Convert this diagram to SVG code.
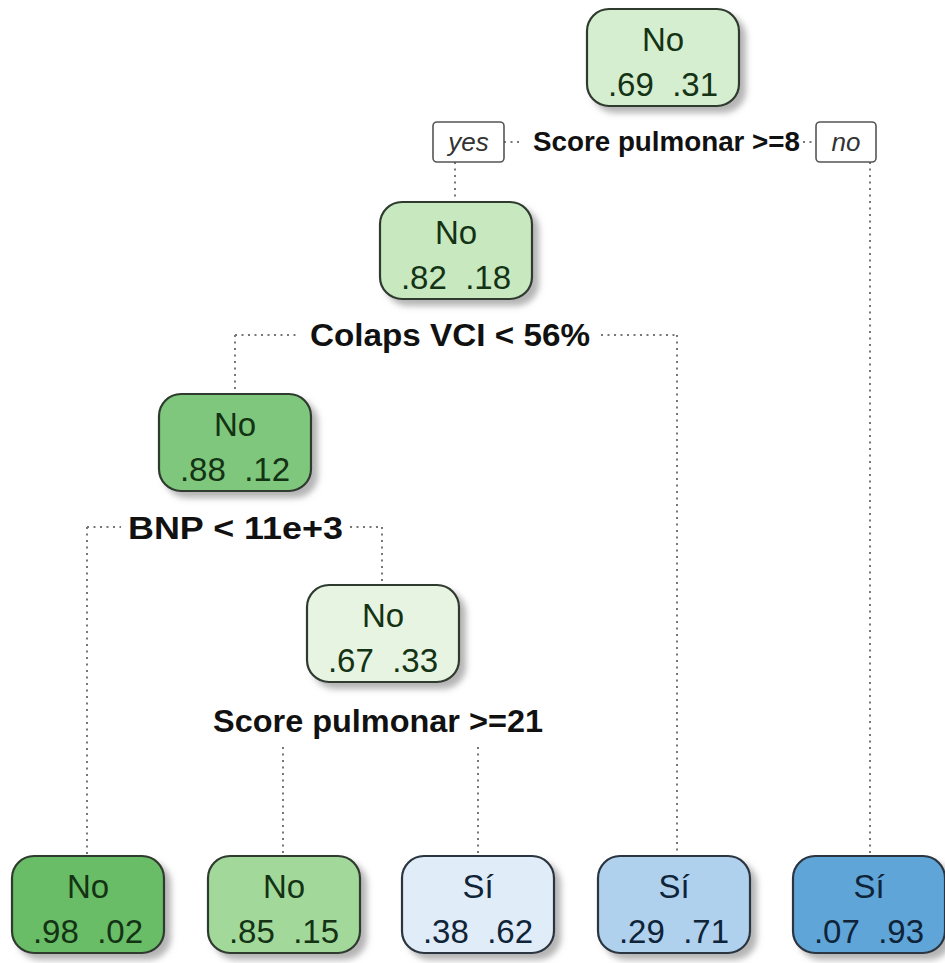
<svg xmlns="http://www.w3.org/2000/svg" width="945" height="963" viewBox="0 0 945 963">
<style>
.box{stroke:#2f3a2f;stroke-width:2.2;filter:url(#sh)}
.bbox{stroke:#2a3440;stroke-width:2.2;filter:url(#sh)}
.t{font-family:"Liberation Sans",Arial,sans-serif;font-size:33px;text-anchor:middle}
.g{fill:#143214}
.b{fill:#0f2438}
.lab{font-family:"Liberation Sans",Arial,sans-serif;font-weight:bold;fill:#111}
.yn{font-family:"Liberation Sans",Arial,sans-serif;font-style:italic;font-size:26px;fill:#333;text-anchor:middle}
.ynbox{fill:#fff;stroke:#555;stroke-width:1.6}
.dot{fill:none;stroke:#777;stroke-width:2;stroke-dasharray:2 4.5}
</style>
<defs>
<filter id="sh" x="-10%" y="-10%" width="130%" height="130%">
<feDropShadow dx="6" dy="6" stdDeviation="3" flood-color="#777" flood-opacity="0.55"/>
</filter>
</defs>
<rect width="945" height="963" fill="#fff"/>
<g id="connectors">
<path class="dot" d="M504 142 H522 M803 142 H816"/>
<path class="dot" d="M455 162 V202"/>
<path class="dot" d="M870 162 V856"/>
<path class="dot" d="M235 335 H296 M601 335 H677 M235 335 V394 M677 335 V856"/>
<path class="dot" d="M87 527 H121 M350 527 H382 M87 527 V856 M382 527 V585"/>
<path class="dot" d="M283 747 V856 M478 747 V856"/>
</g>
<g id="split-labels">
<rect class="ynbox" x="433" y="122" width="71" height="40" rx="4"/>
<text class="yn" x="468.5" y="151">yes</text>
<rect class="ynbox" x="816" y="122" width="60" height="40" rx="4"/>
<text class="yn" x="846" y="151">no</text>
<text class="lab" x="533" y="151" font-size="28" textLength="267" lengthAdjust="spacingAndGlyphs">Score pulmonar &gt;=8</text>
<text class="lab" x="310" y="346" font-size="31" textLength="280" lengthAdjust="spacingAndGlyphs">Colaps VCI &lt; 56%</text>
<text class="lab" x="128" y="539" font-size="31" textLength="215" lengthAdjust="spacingAndGlyphs">BNP &lt; 11e+3</text>
<text class="lab" x="213" y="732" font-size="31" textLength="330" lengthAdjust="spacingAndGlyphs">Score pulmonar &gt;=21</text>
</g>
<g id="root">
<rect class="box" x="587" y="9" width="152" height="97" rx="22" fill="#d5eed0"/>
<text class="t g" x="663" y="51">No</text>
<text class="t g" x="663" y="96" xml:space="preserve">.69  .31</text>
</g>
<g id="n2">
<rect class="box" x="380" y="202" width="152" height="97" rx="22" fill="#c8e8c0"/>
<text class="t g" x="456" y="244">No</text>
<text class="t g" x="456" y="289" xml:space="preserve">.82  .18</text>
</g>
<g id="n3">
<rect class="box" x="159" y="394" width="152" height="97" rx="22" fill="#7ec77b"/>
<text class="t g" x="235" y="436">No</text>
<text class="t g" x="235" y="481" xml:space="preserve">.88  .12</text>
</g>
<g id="n4">
<rect class="box" x="307" y="585" width="152" height="97" rx="22" fill="#e6f4e1"/>
<text class="t g" x="383" y="627">No</text>
<text class="t g" x="383" y="672" xml:space="preserve">.67  .33</text>
</g>
<g id="leaf1">
<rect class="box" x="12" y="856" width="152" height="97" rx="22" fill="#68bd66"/>
<text class="t g" x="88" y="898">No</text>
<text class="t g" x="88" y="943" xml:space="preserve">.98  .02</text>
</g>
<g id="leaf2">
<rect class="box" x="208" y="856" width="152" height="97" rx="22" fill="#a2d99b"/>
<text class="t g" x="284" y="898">No</text>
<text class="t g" x="284" y="943" xml:space="preserve">.85  .15</text>
</g>
<g id="leaf3">
<rect class="bbox" x="402" y="856" width="152" height="97" rx="22" fill="#e0ecf8"/>
<text class="t b" x="478" y="898">Sí</text>
<text class="t b" x="478" y="943" xml:space="preserve">.38  .62</text>
</g>
<g id="leaf4">
<rect class="bbox" x="598" y="856" width="152" height="97" rx="22" fill="#b0d1ed"/>
<text class="t b" x="674" y="898">Sí</text>
<text class="t b" x="674" y="943" xml:space="preserve">.29  .71</text>
</g>
<g id="leaf5">
<rect class="bbox" x="793" y="856" width="152" height="97" rx="22" fill="#60a5d8"/>
<text class="t b" x="869" y="898">Sí</text>
<text class="t b" x="869" y="943" xml:space="preserve">.07  .93</text>
</g>
</svg>
